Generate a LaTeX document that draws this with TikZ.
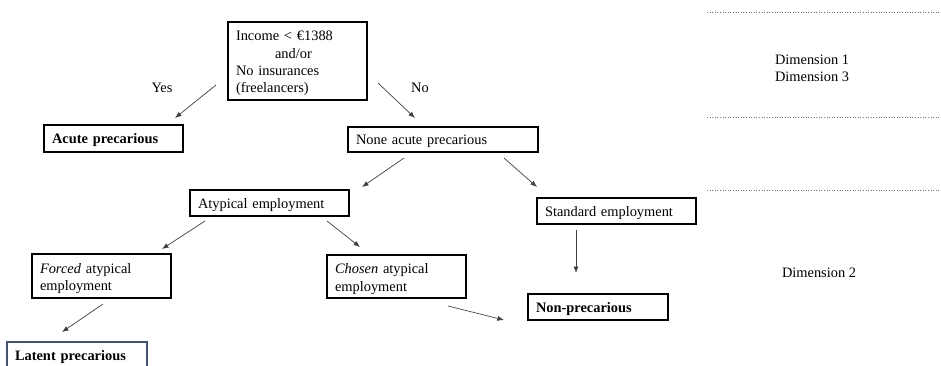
\documentclass[tikz,border=0pt]{standalone}
\usepackage{fontspec}
\setmainfont{Liberation Serif}
\usetikzlibrary{arrows.meta}
\definecolor{latentline}{RGB}{68,84,106}

\begin{document}
\begin{tikzpicture}[x=1pt, y=-1pt,
  every node/.style={font=\fontsize{14.4}{17.3}\selectfont},
  box/.style={draw, line width=1.3pt, anchor=north west, inner xsep=8pt, inner ysep=0pt, outer sep=0pt, align=left,
    execute at end node={\endgraf\vspace*{-5pt}}},
  arr/.style={-{Latex[length=6.5pt,width=5pt]}, line width=0.7pt, black!75},
  dimline/.style={dotted, line width=0.6pt, black!55}]
  \useasboundingbox (0,0) rectangle (941,365);

  \node[box, text width=123pt, minimum height=78pt] (income) at (228,22) {Income < €1388\\\hspace*{39pt}and/or\\No insurances\\(freelancers)};
  \node[box, text width=123pt, minimum height=27pt] (acute) at (44,125) {\textbf{Acute precarious}};
  \node[box, text width=174pt, minimum height=25pt] (noneacute) at (348,127) {None acute precarious};
  \node[box, text width=143pt, minimum height=26pt] (atypical) at (190,190) {Atypical employment};
  \node[box, text width=143pt, minimum height=26pt] (standard) at (537,198) {Standard employment};
  \node[box, text width=123pt, minimum height=44pt] (forced) at (32,254) {\textit{Forced} atypical\\employment};
  \node[box, text width=123pt, minimum height=43pt] (chosen) at (327,255) {\textit{Chosen} atypical\\employment};
  \node[box, text width=124pt, minimum height=26pt] (nonprec) at (528,294) {\textbf{Non-precarious}};
  \node[box, draw=latentline, text width=124pt, minimum height=26pt] (latent) at (7,342) {\textbf{Latent precarious}};

  \node (yes) at (162,88) {Yes};
  \node (no) at (420,88) {No};

  \draw[arr] ([shift={(-12,-15)}]income.south west) -- ([shift={(-8,-7)}]acute.north east);
  \draw[arr] ([shift={(11,-17)}]income.south east) -- ([shift={(67,-9)}]noneacute.north west);
  \draw[arr] ([shift={(-39,6)}]noneacute.south) -- ([shift={(13,-3)}]atypical.north east);
  \draw[arr] ([shift={(-34,6)}]noneacute.south east) -- ([shift={(0,-11)}]standard.north west);
  \draw[arr] ([shift={(15,5)}]atypical.south west) -- ([shift={(-9,-5)}]forced.north east);
  \draw[arr] ([shift={(-22,5)}]atypical.south east) -- ([shift={(33,-8)}]chosen.north west);
  \draw[arr] ([shift={(71,6)}]forced.south west) -- ([shift={(55,-10)}]latent.north west);
  \draw[arr] ([shift={(-18,8)}]chosen.south east) -- ([shift={(-24,0)}]nonprec.south west);
  \draw[arr] ([shift={(39,6)}]standard.south west) -- ([shift={(48,-21)}]nonprec.north west);

  \draw[dimline] (707,12) -- (941,12);
  \draw[dimline] (707,117) -- (941,117);
  \draw[dimline] (707,190) -- (941,190);

  \node[align=center] (dimonethree) at (812,68) {Dimension 1\\Dimension 3};
  \node (dimtwo) at (819,273) {Dimension 2};
\end{tikzpicture}
\end{document}
